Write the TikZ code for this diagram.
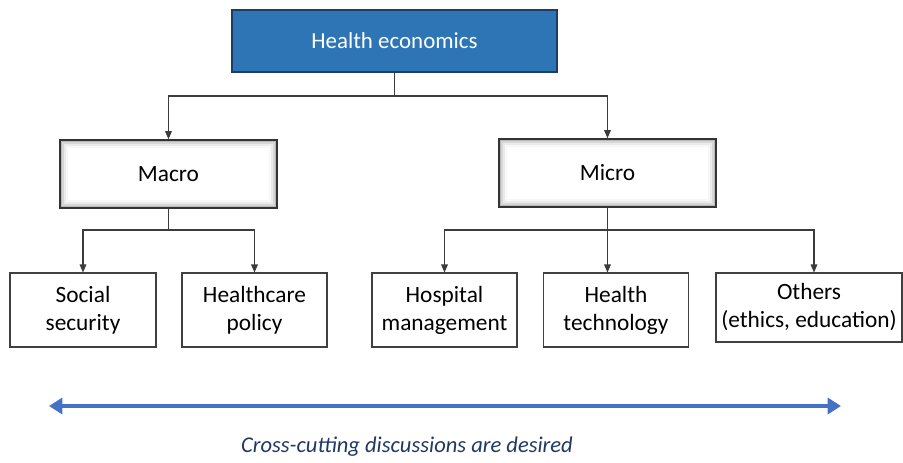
\documentclass[tikz,border=0pt]{standalone}
\usepackage{fontspec}
\setmainfont{Carlito}
\usetikzlibrary{arrows.meta,calc}
\definecolor{heblue}{RGB}{46,117,182}
\definecolor{heborder}{RGB}{30,60,100}
\definecolor{arrowblue}{RGB}{68,114,196}
\definecolor{textblue}{RGB}{31,56,100}
\definecolor{linegray}{RGB}{60,60,60}
\tikzset{
  topbox/.style={draw=heborder,line width=0.9pt,fill=heblue,text=white,font=\fontsize{17.2pt}{20pt}\selectfont,minimum width=243.75pt,minimum height=46.5pt,inner sep=0pt},
  midbox/.style={draw=black!80,line width=1.2pt,fill=white,font=\fontsize{17.5pt}{20pt}\selectfont,minimum width=162.75pt,minimum height=51pt,inner sep=0pt,
    path picture={
      \draw[black!28,line width=1.6pt] ([shift={(1pt,-1pt)}]path picture bounding box.north west) rectangle ([shift={(-1pt,1pt)}]path picture bounding box.south east);
      \draw[black!16,line width=1.6pt] ([shift={(2.5pt,-2.5pt)}]path picture bounding box.north west) rectangle ([shift={(-2.5pt,2.5pt)}]path picture bounding box.south east);
      \draw[black!8,line width=1.6pt] ([shift={(4pt,-4pt)}]path picture bounding box.north west) rectangle ([shift={(-4pt,4pt)}]path picture bounding box.south east);
      \draw[black!3,line width=1.6pt] ([shift={(5.5pt,-5.5pt)}]path picture bounding box.north west) rectangle ([shift={(-5.5pt,5.5pt)}]path picture bounding box.south east);
    }},
  leafbox/.style={draw=black!75,line width=0.8pt,fill=white,font=\fontsize{17.5pt}{21pt}\selectfont,align=center,minimum height=55.5pt,inner sep=0pt},
  conn/.style={draw=linegray,line width=0.8pt},
  arr/.style={conn,-{Triangle[width=5pt,length=6pt]}},
  bigarr/.style={draw=arrowblue,line width=3pt,{Triangle[width=12pt,length=10pt]}-{Triangle[width=12pt,length=10pt]}}
}
\begin{document}
\begin{tikzpicture}[x=0.75pt,y=-0.75pt]
\useasboundingbox (0,0) rectangle (903,462);
\node[topbox] (he) at (394.5,41) {Health economics};
\node[midbox] (macro) at (168.5,174) {Macro};
\node[midbox] (micro) at (607.5,173) {Micro};
\node[leafbox,minimum width=109.5pt] (soc) at (83,310) {Social\\security};
\node[leafbox,minimum width=108.75pt] (hcp) at (254.5,310) {Healthcare\\policy};
\node[leafbox,minimum width=108.75pt] (hosp) at (444.5,310) {Hospital\\management};
\node[leafbox,minimum width=108.75pt] (tech) at (616,310) {Health\\technology};
\node[leafbox,minimum width=139.5pt,minimum height=51.75pt] (oth) at (809,307.5) {Others\\(ethics, education)};
% top level connectors
\coordinate (hej) at (he.south |- 0,96);
\draw[conn] (he.south) -- (hej);
\draw[arr] (hej) -| (macro.north);
\draw[arr] (hej) -| (micro.north);
% macro
\coordinate (maj) at (macro.south |- 0,230);
\draw[conn] (macro.south) -- (maj);
\draw[arr] (maj) -| (soc.north);
\draw[arr] (maj) -| (hcp.north);
% micro
\coordinate (mij) at (micro.south |- 0,230);
\coordinate (othin) at (814,0);
\draw[arr] (micro.south) -- (micro.south |- tech.north);
\draw[arr] (mij) -| (hosp.north);
\draw[arr] (mij) -| (othin |- oth.north);
% cross-cutting arrow
\coordinate (la) at (49,406);
\coordinate (ra) at (841,406);
\draw[bigarr] (la) -- (ra);
\node[font=\fontsize{16.9pt}{20pt}\selectfont\itshape,text=textblue] (cc) at (407,447) {Cross-cutting discussions are desired};
\end{tikzpicture}
\end{document}
